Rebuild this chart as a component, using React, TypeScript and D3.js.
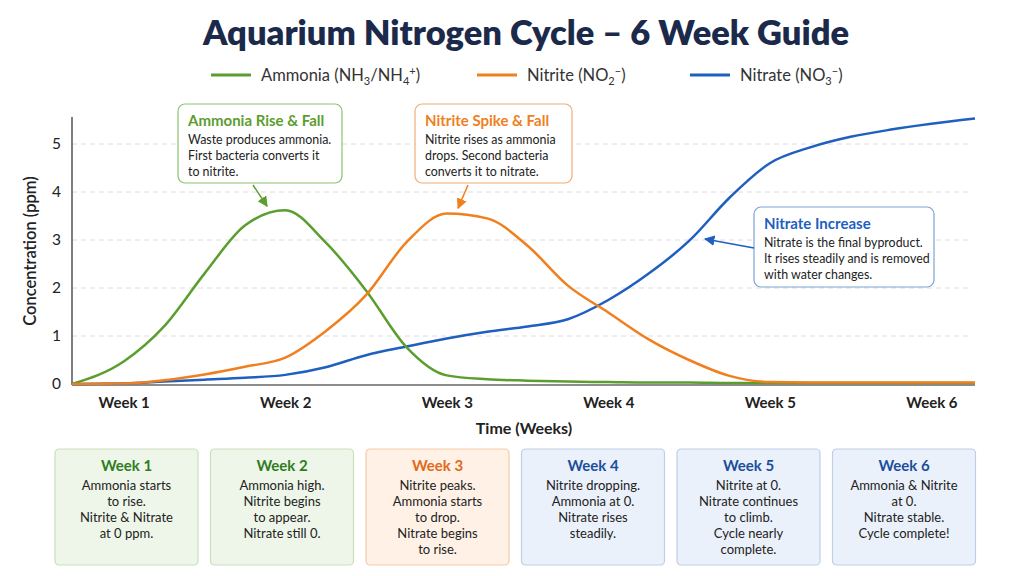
import React, { useEffect, useRef } from "react";
import * as d3 from "d3";

const weeks = [0.68, 1, 1.25, 1.5, 1.75, 2, 2.25, 2.5, 2.75, 3, 3.25, 3.5, 3.75, 4, 4.25, 4.5, 4.75, 5, 5.25, 5.5, 5.75, 6, 6.27];
const ammonia = [0, 0.47, 1.2, 2.3, 3.3, 3.62, 2.95, 1.95, 0.77, 0.18, 0.1, 0.07, 0.05, 0.04, 0.03, 0.03, 0.02, 0.02, 0.02, 0.02, 0.02, 0.02, 0.02];
const nitrite = [0, 0.01, 0.08, 0.2, 0.36, 0.55, 1.1, 1.85, 2.95, 3.55, 3.45, 2.88, 2.05, 1.49, 0.93, 0.5, 0.17, 0.04, 0.03, 0.03, 0.03, 0.03, 0.03];
const nitrate = [0, 0.01, 0.05, 0.09, 0.13, 0.19, 0.35, 0.6, 0.78, 0.95, 1.09, 1.2, 1.35, 1.75, 2.3, 2.98, 3.88, 4.6, 4.93, 5.15, 5.3, 5.42, 5.53];

const weekTicks = [1, 2, 3, 4, 5, 6];
const yTicks = [0, 1, 2, 3, 4, 5];

const GREEN = "#5b9e2f";
const ORANGE = "#f07f1e";
const BLUE = "#1f5fbf";
const FONT = "Lato, 'Open Sans', sans-serif";

const cardTitles = ["Week 1", "Week 2", "Week 3", "Week 4", "Week 5", "Week 6"];
const cardTexts = [
    ["Ammonia starts", "to rise.", "Nitrite & Nitrate", "at 0 ppm."],
    ["Ammonia high.", "Nitrite begins", "to appear.", "Nitrate still 0."],
    ["Nitrite peaks.", "Ammonia starts", "to drop.", "Nitrate begins", "to rise."],
    ["Nitrite dropping.", "Ammonia at 0.", "Nitrate rises", "steadily."],
    ["Nitrite at 0.", "Nitrate continues", "to climb.", "Cycle nearly", "complete."],
    ["Ammonia & Nitrite", "at 0.", "Nitrate stable.", "Cycle complete!"],
];
const cardThemes = ["green", "green", "orange", "blue", "blue", "blue"];
const themes: Record<string, { fill: string; stroke: string; title: string }> = {
    green: { fill: "#eef6e9", stroke: "#c9e0bb", title: "#2f7d1f" },
    orange: { fill: "#fff1e6", stroke: "#f6caa6", title: "#e2691a" },
    blue: { fill: "#ebf1fa", stroke: "#bfcfe7", title: "#1b4f9c" },
};

export default function App() {
    const ref = useRef<SVGSVGElement>(null);

    useEffect(() => {
        const svg = d3.select(ref.current);
        svg.selectAll("*").remove();

        const width = 1024;
        const height = 576;
        const margin = { top: 117, right: 49, bottom: 192, left: 72 };

        const xScale = d3.scaleLinear().domain([0.68, 6.27]).range([margin.left, width - margin.right]);
        const yScale = d3.scaleLinear().domain([0, 5]).range([384, 144]);

        svg.append("rect").attr("width", width).attr("height", height).attr("fill", "#ffffff");

        // defs for arrows
        const defs = svg.append("defs");
        [["g", GREEN], ["o", ORANGE], ["b", BLUE]].forEach(([id, c]) => {
            defs.append("marker")
                .attr("id", "arrow-" + id)
                .attr("viewBox", "0 0 10 10")
                .attr("refX", 9).attr("refY", 5)
                .attr("markerWidth", 7).attr("markerHeight", 7)
                .attr("orient", "auto-start-reverse")
                .append("path").attr("d", "M0,0 L10,5 L0,10 z").attr("fill", c);
        });

        // title
        svg.append("text")
            .attr("x", 526).attr("y", 45)
            .attr("text-anchor", "middle")
            .style("font-family", FONT).style("font-size", "34.5px").style("font-weight", "800")
            .attr("fill", "#1b2a4a")
            .text("Aquarium Nitrogen Cycle – 6 Week Guide");

        // legend
        const legend = [
            { x: 211, color: GREEN, parts: [["Ammonia (NH", ""], ["3", "sub"], ["/NH", ""], ["4", "sub"], ["+", "sup"], [")", ""]] },
            { x: 477, color: ORANGE, parts: [["Nitrite (NO", ""], ["2", "sub"], ["−", "sup"], [")", ""]] },
            { x: 690, color: BLUE, parts: [["Nitrate (NO", ""], ["3", "sub"], ["−", "sup"], [")", ""]] },
        ];
        legend.forEach(l => {
            svg.append("line").attr("x1", l.x).attr("x2", l.x + 40).attr("y1", 75).attr("y2", 75)
                .attr("stroke", l.color).attr("stroke-width", 3);
            const t = svg.append("text").attr("x", l.x + 50).attr("y", 81)
                .style("font-family", FONT).style("font-size", "16.5px").attr("fill", "#333");
            let shift = 0;
            l.parts.forEach(([s, kind]) => {
                const target = kind === "sub" ? 4 : kind === "sup" ? -6 : 0;
                t.append("tspan")
                    .attr("dy", target - shift)
                    .style("font-size", kind ? "11px" : "16.5px")
                    .text(s);
                shift = target;
            });
        });

        // gridlines
        svg.append("g").selectAll("line").data(yTicks.filter(d => d > 0)).enter()
            .append("line")
            .attr("x1", margin.left).attr("x2", 968)
            .attr("y1", d => yScale(d)).attr("y2", d => yScale(d))
            .attr("stroke", "#dcdcdc").attr("stroke-dasharray", "5,4");

        // axes
        const yAxis = d3.axisLeft(yScale).tickValues(yTicks).tickSize(0).tickPadding(11).tickFormat(d3.format("d"));
        const gy = svg.append("g").attr("transform", `translate(${margin.left},0)`).call(yAxis);
        gy.select(".domain").remove();
        gy.selectAll("text").style("font-family", FONT).style("font-size", "15.5px").attr("fill", "#222");
        svg.append("line").attr("x1", margin.left).attr("x2", margin.left).attr("y1", 117).attr("y2", 385)
            .attr("stroke", "#555").attr("stroke-width", 1.5);

        const xAxis = d3.axisBottom(xScale).tickValues(weekTicks).tickSize(0).tickPadding(12)
            .tickFormat(d => "Week " + d);
        const gx = svg.append("g").attr("transform", `translate(0,385)`).call(xAxis);
        gx.select(".domain").remove();
        gx.selectAll("text").style("font-family", FONT).style("font-size", "15px").style("font-weight", "700").attr("fill", "#222");
        svg.append("line").attr("x1", margin.left).attr("x2", 975).attr("y1", 385).attr("y2", 385)
            .attr("stroke", "#666").attr("stroke-width", 1.5);

        // axis titles
        svg.append("text")
            .attr("x", 524).attr("y", 434)
            .attr("text-anchor", "middle")
            .style("font-family", FONT).style("font-size", "16px").style("font-weight", "700")
            .attr("fill", "#222")
            .text("Time (Weeks)");
        svg.append("text")
            .attr("transform", "rotate(-90)")
            .attr("x", -251).attr("y", 36)
            .attr("text-anchor", "middle")
            .style("font-family", FONT).style("font-size", "16.5px").style("font-weight", "600")
            .attr("fill", "#222")
            .text("Concentration (ppm)");

        // lines
        const line = d3.line<number>()
            .x((_, i) => xScale(weeks[i]))
            .y(d => yScale(d))
            .curve(d3.curveMonotoneX);
        [[nitrate, BLUE], [ammonia, GREEN], [nitrite, ORANGE]].forEach(([data, color]) => {
            svg.append("path")
                .datum(data as number[])
                .attr("fill", "none")
                .attr("stroke", color as string)
                .attr("stroke-width", 2.5)
                .attr("stroke-linejoin", "round")
                .attr("d", line);
        });

        // annotations
        const notes = [
            {
                x: 178, y: 104, w: 164, h: 79, color: GREEN, border: "#8dc16f", id: "g",
                title: "Ammonia Rise & Fall",
                lines: ["Waste produces ammonia.", "First bacteria converts it", "to nitrite."],
                from: [253, 185], to: [xScale(1.9) - 2, yScale(3.62) - 4],
            },
            {
                x: 415, y: 104, w: 157, h: 79, color: ORANGE, border: "#f3ac73", id: "o",
                title: "Nitrite Spike & Fall",
                lines: ["Nitrite rises as ammonia", "drops. Second bacteria", "converts it to nitrate."],
                from: [468, 185], to: [xScale(3.07), yScale(3.58) - 4],
            },
            {
                x: 754, y: 207, w: 180, h: 80, color: BLUE, border: "#7fa3d6", id: "b",
                title: "Nitrate Increase",
                lines: ["Nitrate is the final byproduct.", "It rises steadily and is removed", "with water changes."],
                from: [754, 248], to: [xScale(4.58) + 3, yScale(3.0) - 1],
            },
        ];
        notes.forEach(n => {
            svg.append("rect").attr("x", n.x).attr("y", n.y).attr("width", n.w).attr("height", n.h)
                .attr("rx", 7).attr("fill", "#fff").attr("stroke", n.border).attr("stroke-width", 1.2);
            svg.append("text").attr("x", n.x + 10).attr("y", n.y + 22)
                .style("font-family", FONT).style("font-size", "15px").style("font-weight", "700")
                .attr("fill", n.color).text(n.title);
            n.lines.forEach((s, i) => {
                svg.append("text").attr("x", n.x + 10).attr("y", n.y + 40 + i * 16)
                    .style("font-family", FONT).style("font-size", "12.4px")
                    .attr("fill", "#222").text(s);
            });
            svg.append("line")
                .attr("x1", n.from[0]).attr("y1", n.from[1])
                .attr("x2", n.to[0]).attr("y2", n.to[1])
                .attr("stroke", n.color).attr("stroke-width", 1.5)
                .attr("marker-end", `url(#arrow-${n.id})`);
        });

        // week cards
        const cardW = 143;
        const cardStep = 155.5;
        cardTitles.forEach((title, i) => {
            const th = themes[cardThemes[i]];
            const cx = 55 + i * cardStep;
            const g = svg.append("g").attr("transform", `translate(${cx},449)`);
            g.append("rect").attr("width", cardW).attr("height", 116).attr("rx", 4)
                .attr("fill", th.fill).attr("stroke", th.stroke).attr("stroke-width", 1.2);
            g.append("text").attr("x", cardW / 2).attr("y", 22)
                .attr("text-anchor", "middle")
                .style("font-family", FONT).style("font-size", "15px").style("font-weight", "700")
                .attr("fill", th.title).text(title);
            cardTexts[i].forEach((s, j) => {
                g.append("text").attr("x", cardW / 2).attr("y", 41 + j * 16)
                    .attr("text-anchor", "middle")
                    .style("font-family", FONT).style("font-size", "13px")
                    .attr("fill", "#222").text(s);
            });
        });
    }, []);

    return <svg ref={ref} width={1024} height={576} style={{ position: "absolute", left: 0, top: 0, display: "block" }}></svg>;
}
